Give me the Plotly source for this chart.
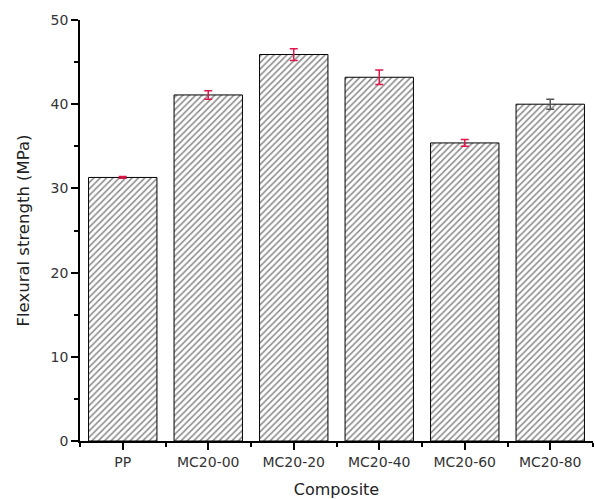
import plotly.graph_objects as go

categories = ["PP", "MC20-00", "MC20-20", "MC20-40", "MC20-60", "MC20-80"]
strength = [31.3, 41.1, 45.9, 43.2, 35.4, 40.0]
errors = [0.1, 0.5, 0.7, 0.85, 0.4, 0.6]
err_colors = ["#e0184a", "#e0184a", "#e0184a", "#e0184a", "#e0184a", "#555555"]

xpos = list(range(len(categories)))

fig = go.Figure()
fig.add_trace(go.Bar(
    x=xpos, y=strength, width=0.8,
    marker=dict(color="white", line=dict(color="black", width=1),
                pattern=dict(shape="/", size=4.5, solidity=0.35, fgcolor="#1a1a1a", bgcolor="white")),
    showlegend=False, hoverinfo="skip"))

for xi, yi, ei, ci in zip(xpos, strength, errors, err_colors):
    fig.add_trace(go.Scatter(
        x=[xi], y=[yi], mode="markers", marker=dict(opacity=0, size=1),
        error_y=dict(type="data", array=[ei], color=ci, thickness=1.5, width=4),
        showlegend=False, hoverinfo="skip"))

font = "DejaVu Sans, Liberation Sans, Arial, sans-serif"
fig.update_layout(
    width=595, height=499,
    margin=dict(l=80, r=2, t=20, b=58),
    plot_bgcolor="white", paper_bgcolor="white",
    font=dict(family=font, size=14, color="#333333"),
)
fig.update_xaxes(
    range=[-0.5, 5.5], tickmode="array", tickvals=xpos, ticktext=categories,
    showline=True, linecolor="black", linewidth=1.5, mirror=False,
    ticks="outside", ticklen=7, tickwidth=1.5, tickcolor="black",
    showgrid=False, zeroline=False,
    minor=dict(tickmode="linear", tick0=-0.5, dtick=1, ticks="outside", ticklen=4, tickwidth=1.5, tickcolor="black", showgrid=False),
    title=dict(text="Composite", font=dict(size=16, color="#222222"), standoff=16),
    tickfont=dict(size=14),
)
fig.update_yaxes(
    range=[0, 50], tickmode="linear", tick0=0, dtick=10,
    showline=True, linecolor="black", linewidth=1.5,
    ticks="outside", ticklen=7, tickwidth=1.5, tickcolor="black",
    showgrid=False, zeroline=False,
    minor=dict(tickmode="linear", tick0=5, dtick=10, ticks="outside", ticklen=4, tickwidth=1.5, tickcolor="black", showgrid=False),
    title=dict(text="Flexural strength (MPa)", font=dict(size=16.5, color="#222222"), standoff=17),
    tickfont=dict(size=14),
)

fig.write_html("out.html")
